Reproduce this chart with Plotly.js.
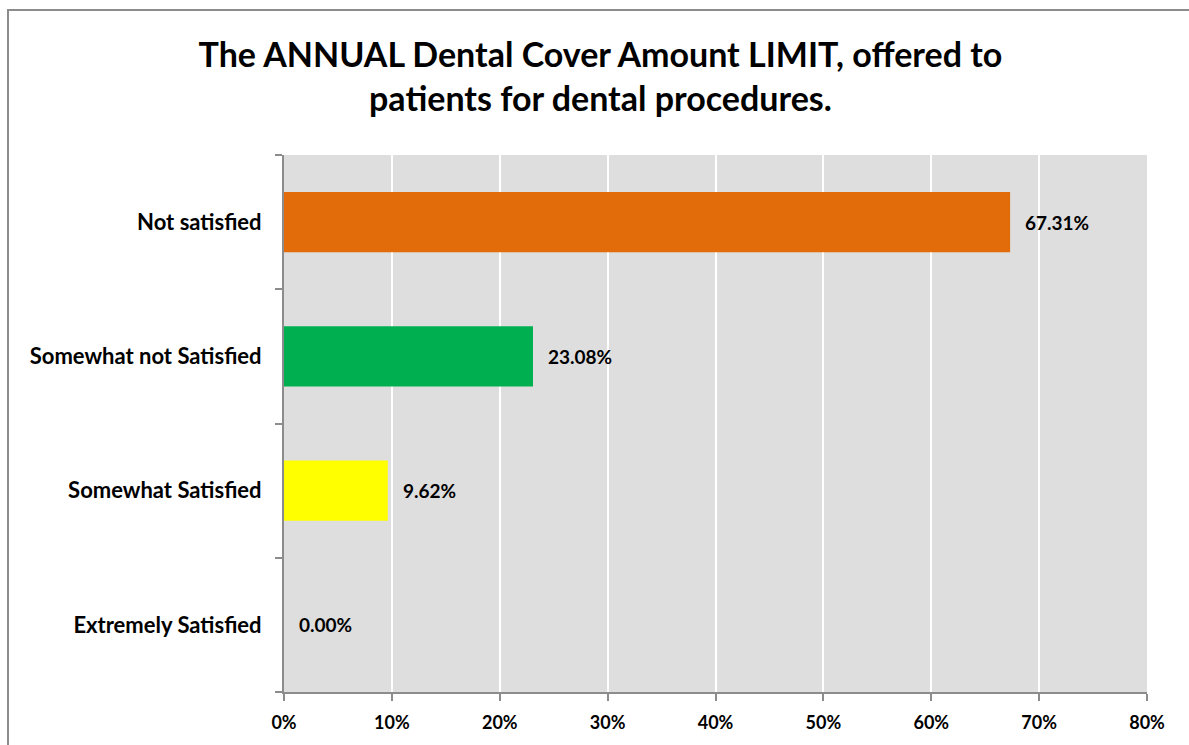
<!DOCTYPE html>
<html>
<head>
<meta charset="utf-8">
<script src="https://cdn.plot.ly/plotly-3.0.1.min.js"></script>
<style>
html,body{margin:0;padding:0;background:#fff;}
#wrap{position:relative;width:1189px;height:745px;}
#frame{position:absolute;left:7px;top:9px;width:1200px;height:760px;border-left:2px solid #8c8c8c;border-top:2px solid #8c8c8c;box-sizing:border-box;pointer-events:none;z-index:5;}
#chart{position:absolute;left:0;top:0;width:1189px;height:745px;}
</style>
</head>
<body>
<div id="wrap"><div id="chart"></div><div id="frame"></div></div>
<script>
const categories = ["Extremely Satisfied", "Somewhat Satisfied", "Somewhat not Satisfied", "Not satisfied"];
const values = [0.00, 9.62, 23.08, 67.31];
const barColors = ["#FFFF00", "#FFFF00", "#00B050", "#E36C0A"];
const tickVals = [0, 10, 20, 30, 40, 50, 60, 70, 80];
const tickText = ["0%", "10%", "20%", "30%", "40%", "50%", "60%", "70%", "80%"];
const titleText = "The ANNUAL Dental Cover Amount LIMIT, offered to<br>patients for dental procedures.";

const FONT = "Lato, 'Open Sans', sans-serif";

const trace = {
  type: "bar",
  orientation: "h",
  x: values,
  y: categories,
  marker: {color: barColors, line: {width: 0}},
  hoverinfo: "none"
};

const annotations = values.map((v, i) => ({
  x: v, y: categories[i], xref: "x", yref: "y",
  text: v.toFixed(2) + "%",
  showarrow: false, xanchor: "left", xshift: 13,
  font: {family: FONT, size: 19, color: "#000", weight: "bold"}
}));

const layout = {
  width: 1189, height: 745,
  margin: {l: 284, r: 42, t: 155, b: 53, pad: 0},
  paper_bgcolor: "#ffffff",
  plot_bgcolor: "#DEDEDE",
  bargap: 0.55,
  showlegend: false,
  title: {
    text: titleText,
    font: {family: FONT, size: 34, color: "#000", weight: "bold"},
    x: 0.505, xref: "container", xanchor: "center",
    y: 1 - 67/745, yref: "container", yanchor: "top"
  },
  xaxis: {
    range: [0, 80],
    tickvals: tickVals, ticktext: tickText,
    showgrid: true, gridcolor: "#ffffff", gridwidth: 2,
    zeroline: false,
    showline: true, linecolor: "#8c8c8c", linewidth: 2,
    ticks: "outside", ticklen: 7, tickcolor: "#8c8c8c", tickwidth: 2,
    ticklabelstandoff: 6,
    tickfont: {family: FONT, size: 18, color: "#000", weight: "bold"},
    fixedrange: true
  },
  yaxis: {
    type: "category",
    categoryorder: "array", categoryarray: categories,
    showgrid: false,
    zeroline: false,
    showline: true, linecolor: "#8c8c8c", linewidth: 2,
    ticks: "outside", ticklen: 7, tickcolor: "#8c8c8c", tickwidth: 2,
    tickson: "boundaries",
    ticklabelstandoff: 16,
    tickfont: {family: FONT, size: 22, color: "#000", weight: "bold"},
    fixedrange: true
  },
  annotations: annotations
};

Plotly.newPlot("chart", [trace], layout, {displayModeBar: false, staticPlot: true});
</script>
</body>
</html>
